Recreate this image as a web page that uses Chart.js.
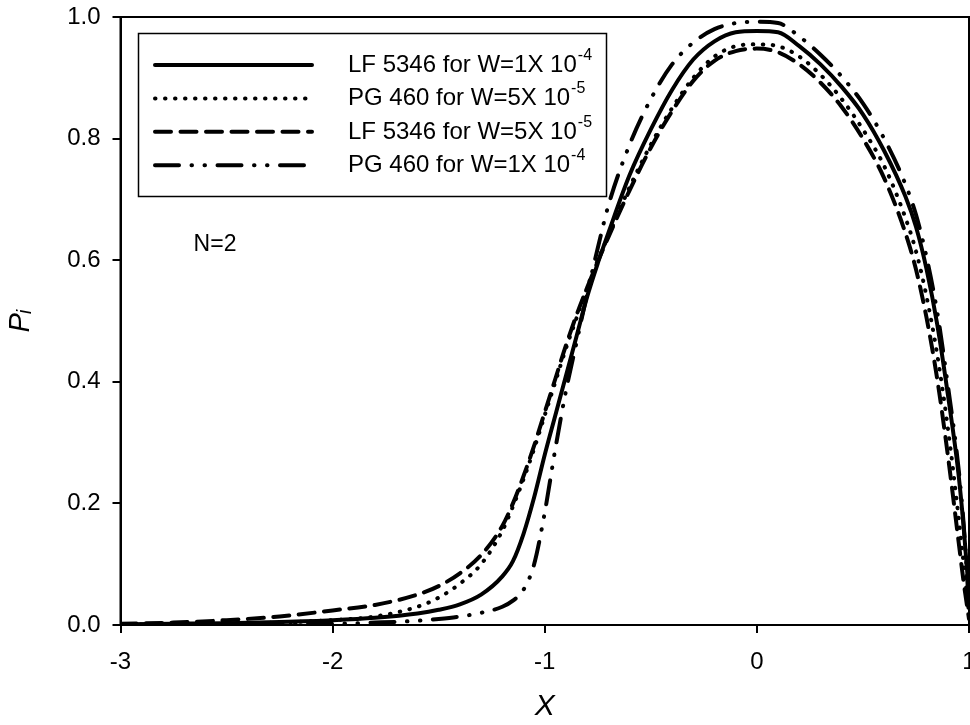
<!DOCTYPE html>
<html>
<head>
<meta charset="utf-8">
<script src="https://cdn.jsdelivr.net/npm/chart.js@4.4.1/dist/chart.umd.min.js"></script>
<style>
  body { margin: 0; background: #fff; }
  #wrap { width: 970px; height: 725px; overflow: hidden; }
</style>
</head>
<body>
<div id="wrap"><canvas id="profileChart" width="970" height="725"></canvas></div>
<script>
const xValues = [-3, -2.75, -2.5, -2.25, -2, -1.8, -1.6, -1.5, -1.4, -1.3, -1.2, -1.15, -1.1, -1.05, -1,
  -0.95, -0.9, -0.85, -0.8, -0.75, -0.7, -0.6, -0.5, -0.4, -0.3, -0.2, -0.1, 0, 0.1, 0.2,
  0.3, 0.4, 0.5, 0.6, 0.7, 0.75, 0.8, 0.85, 0.9, 0.95, 0.975, 1]

const lf5346W1e4 = [0.001, 0.002, 0.003, 0.005, 0.008, 0.012, 0.019, 0.025, 0.034, 0.05, 0.08, 0.105, 0.15, 0.21, 0.28,
  0.345, 0.41, 0.475, 0.54, 0.595, 0.645, 0.74, 0.815, 0.88, 0.93, 0.96, 0.975, 0.977, 0.975, 0.952,
  0.922, 0.885, 0.84, 0.78, 0.705, 0.655, 0.585, 0.495, 0.38, 0.25, 0.16, 0.05]

const pg460W5e5 = [0.0005, 0.001, 0.002, 0.004, 0.008, 0.014, 0.03, 0.045, 0.068, 0.1, 0.155, 0.195, 0.24, 0.29, 0.345,
  0.4, 0.455, 0.505, 0.555, 0.6, 0.64, 0.72, 0.79, 0.85, 0.9, 0.935, 0.952, 0.955, 0.952, 0.935,
  0.905, 0.865, 0.815, 0.755, 0.67, 0.615, 0.54, 0.445, 0.325, 0.18, 0.1, 0.02]

const lf5346W5e5 = [0.002, 0.004, 0.008, 0.014, 0.024, 0.033, 0.05, 0.064, 0.085, 0.115, 0.163, 0.2, 0.245, 0.295, 0.35,
  0.405, 0.46, 0.51, 0.555, 0.598, 0.638, 0.715, 0.785, 0.845, 0.895, 0.928, 0.944, 0.948, 0.942, 0.922,
  0.892, 0.852, 0.8, 0.735, 0.645, 0.585, 0.505, 0.405, 0.28, 0.14, 0.07, 0.01]

const pg460W1e4 = [0, 0.0005, 0.001, 0.0015, 0.002, 0.004, 0.007, 0.01, 0.014, 0.02, 0.03, 0.04, 0.058, 0.1, 0.185,
  0.29, 0.385, 0.465, 0.545, 0.62, 0.69, 0.79, 0.865, 0.922, 0.958, 0.98, 0.99, 0.992, 0.99, 0.968,
  0.938, 0.902, 0.858, 0.8, 0.725, 0.675, 0.605, 0.515, 0.395, 0.26, 0.165, 0.03]

const seriesNames = ['LF 5346 for W=1X 10', 'PG 460 for W=5X 10', 'LF 5346 for W=5X 10', 'PG 460 for W=1X 10']
const seriesExponents = ['-4', '-5', '-5', '-4']
const xTicks = [-3, -2, -1, 0, 1]
const yTicks = [0, 0.2, 0.4, 0.6, 0.8, 1.0]

const fontFamily = '"Liberation Sans", Arial, Helvetica, sans-serif'
const dashStyles = [[], [0.5, 9.5], [16, 9.5], [24, 12.5, 0.5, 12.5, 0.5, 12.5]]

const toPoints = (ys) => xValues.map((x, i) => ({x: x, y: ys[i]}))

const makeDataset = (label, ys, i) => {
  return {
    label: label,
    data: toPoints(ys),
    borderColor: '#000',
    borderWidth: 4,
    borderDash: dashStyles[i],
    borderCapStyle: 'round',
    borderJoinStyle: 'round',
    pointRadius: 0,
    fill: false,
    cubicInterpolationMode: 'monotone'
  }
}

// chart.js keeps room for half of the edge tick labels, the original plot doesn't
const noEdgePadding = (scale) => {
  scale.paddingTop = 0
  scale.paddingBottom = 0
  scale.paddingLeft = 0
  scale.paddingRight = 0
}

const frameAndLegend = {
  id: 'frameAndLegend',
  afterDraw(chart) {
    const {ctx, chartArea} = chart
    ctx.save()
    ctx.strokeStyle = '#000'
    ctx.fillStyle = '#000'
    ctx.lineWidth = 2
    ctx.strokeRect(chartArea.left, chartArea.top, chartArea.right - chartArea.left, chartArea.bottom - chartArea.top)

    ctx.lineWidth = 1.5
    ctx.strokeRect(138.5, 33.5, 468, 163)
    chart.data.datasets.forEach((ds, i) => {
      const y = 65 + i * 33.4
      ctx.lineWidth = ds.borderWidth
      ctx.lineCap = 'round'
      ctx.setLineDash(ds.borderDash)
      ctx.beginPath()
      ctx.moveTo(155, y)
      ctx.lineTo(312, y)
      ctx.stroke()
      ctx.setLineDash([])
      ctx.font = '24px ' + fontFamily
      ctx.textAlign = 'left'
      ctx.textBaseline = 'alphabetic'
      ctx.fillText(seriesNames[i], 348, y + 7)
      const w = ctx.measureText(seriesNames[i]).width
      ctx.font = '16px ' + fontFamily
      ctx.fillText(seriesExponents[i], 348 + w + 1, y - 5)
    })

    ctx.font = '23px ' + fontFamily
    ctx.textAlign = 'center'
    ctx.textBaseline = 'middle'
    ctx.fillText('N=2', 215, 245)
    ctx.restore()
  }
}

new Chart(document.querySelector('#profileChart'), {
  type: 'line',
  data: {
    datasets: [
      makeDataset(seriesNames[0] + seriesExponents[0], lf5346W1e4, 0),
      makeDataset(seriesNames[1] + seriesExponents[1], pg460W5e5, 1),
      makeDataset(seriesNames[2] + seriesExponents[2], lf5346W5e5, 2),
      makeDataset(seriesNames[3] + seriesExponents[3], pg460W1e4, 3)
    ]
  },
  options: {
    responsive: false,
    animation: false,
    devicePixelRatio: 1,
    layout: {
      padding: {top: 17, left: 0, right: 1, bottom: 0}
    },
    plugins: {
      legend: {display: false},
      tooltip: {enabled: false}
    },
    scales: {
      x: {
        type: 'linear',
        min: -3,
        max: 1,
        afterFit: (scale) => {
          scale.height = 100
          noEdgePadding(scale)
        },
        afterBuildTicks: (scale) => { scale.ticks = xTicks.map(v => ({value: v})) },
        ticks: {
          color: '#000',
          padding: 15,
          maxRotation: 0,
          font: {family: fontFamily, size: 24},
          callback: (v) => String(v)
        },
        grid: {drawOnChartArea: false, drawTicks: true, tickLength: 8, color: '#000', lineWidth: 2},
        border: {display: true, color: '#000', width: 2},
        title: {
          display: true,
          text: 'X',
          color: '#000',
          padding: {top: 0, bottom: 0},
          font: {family: fontFamily, size: 30, style: 'italic'}
        }
      },
      y: {
        min: 0,
        max: 1,
        afterFit: (scale) => {
          scale.width = 120.5
          noEdgePadding(scale)
        },
        afterBuildTicks: (scale) => { scale.ticks = yTicks.map(v => ({value: v})) },
        ticks: {
          color: '#000',
          padding: 12,
          font: {family: fontFamily, size: 24},
          callback: (v) => v.toFixed(1)
        },
        grid: {drawOnChartArea: false, drawTicks: true, tickLength: 8, color: '#000', lineWidth: 2},
        border: {display: true, color: '#000', width: 2},
        title: {
          display: true,
          text: 'Pᵢ',
          color: '#000',
          padding: {top: 4, bottom: 0},
          font: {family: fontFamily, size: 29, style: 'italic'}
        }
      }
    }
  },
  plugins: [frameAndLegend]
})
</script>
</body>
</html>
